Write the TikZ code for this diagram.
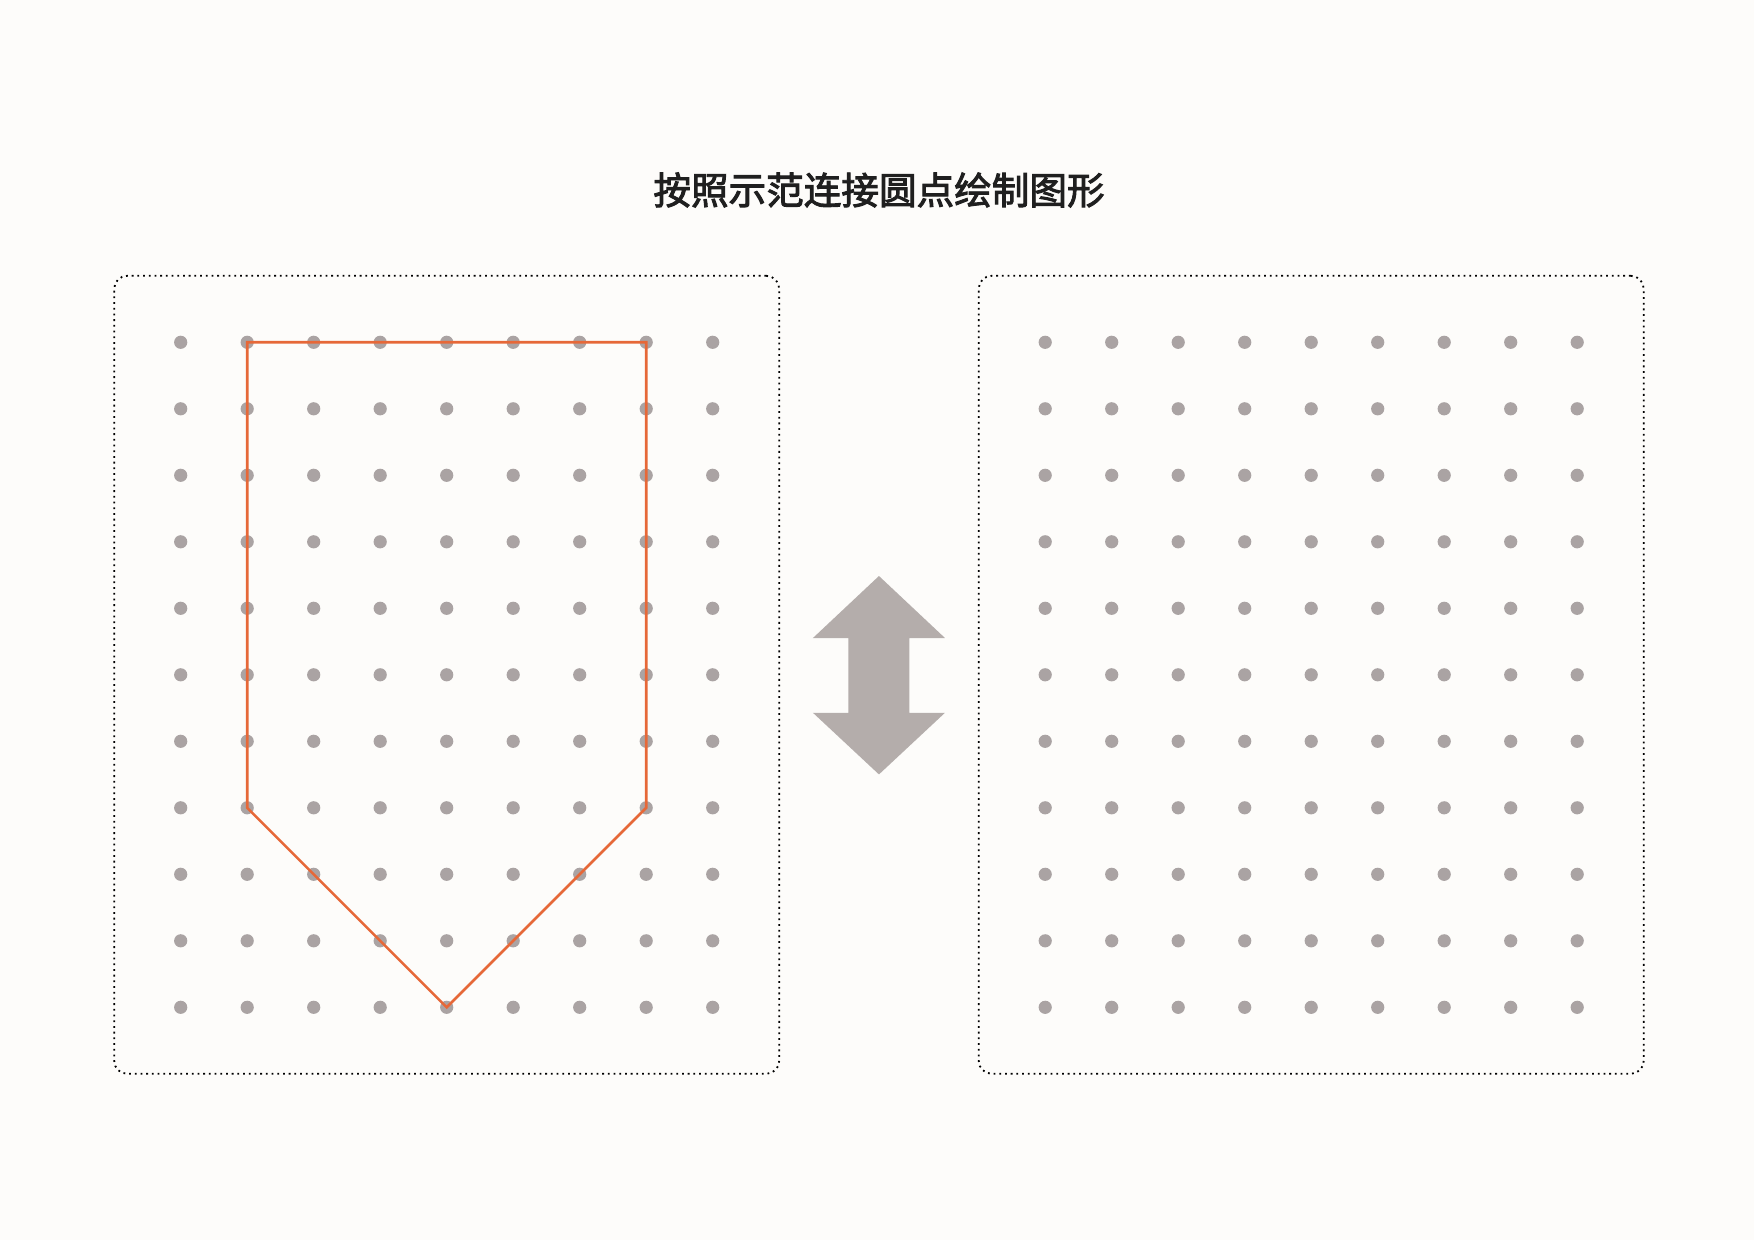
\documentclass[tikz,border=0pt]{standalone}
\usepackage{fontspec}
\newfontfamily\cjk{Noto Sans CJK SC}[UprightFeatures={FakeBold=2.5}]
\usetikzlibrary{positioning,calc}
\definecolor{paper}{RGB}{253,252,250}
\definecolor{dotgray}{RGB}{170,163,163}
\definecolor{arrowgray}{RGB}{180,173,171}
\definecolor{lineorange}{RGB}{230,104,56}
\tikzstyle{gdot}=[circle, fill=dotgray, inner sep=0pt, minimum size=6.6pt]
\tikzstyle{pbox}=[rectangle, rounded corners=6.5pt, draw=black, line width=0.9pt,
 dash pattern=on 0.9pt off 1.95pt, minimum width=332.5pt, minimum height=399pt, inner sep=0pt]
\tikzstyle{pline}=[line width=1.3pt, lineorange, line join=miter]
\tikzstyle{ttl}=[font=\cjk\fontsize{18.8pt}{22pt}\selectfont, text=black!88, inner sep=0pt]
\begin{document}
\begin{tikzpicture}[x=0.5pt, y=-0.5pt]

    \fill[paper] (0,0) rectangle (1754,1240);
    \useasboundingbox (0,0) rectangle (1754,1240);

    \node (title) [ttl] at (879,190) {按照示范连接圆点绘制图形};

% dot grids
    \foreach \c in {1,...,9}
      \foreach \r in {1,...,11} {
        \node (L-\c-\r) [gdot] at ({180.7+(\c-1)*66.5},{342.3+(\r-1)*66.5}) {};
        \node (R-\c-\r) [gdot] at ({1045.2+(\c-1)*66.5},{342.3+(\r-1)*66.5}) {};
      }

% frames
    \node (lbox) [pbox] at (L-5-6) {};
    \node (rbox) [pbox] at (R-5-6) {};

% model shape
    \draw[pline] (L-2-1.center) -- (L-8-1.center) -- (L-8-8.center)
       -- (L-5-11.center) -- (L-2-8.center) -- cycle;

% arrow
    \coordinate (mid) at ($(L-9-6)!0.5!(R-1-6)$);
    \fill[arrowgray] ($(mid)+(0,-98.8)$) -- ++(66,62) -- ++(-35.5,0) -- ++(0,74.8)
       -- ++(35.5,0) -- ++(-66,61.6) -- ++(-66,-61.6) -- ++(35.5,0) -- ++(0,-74.8)
       -- ++(-35.5,0) -- cycle;
\end{tikzpicture}
\end{document}
